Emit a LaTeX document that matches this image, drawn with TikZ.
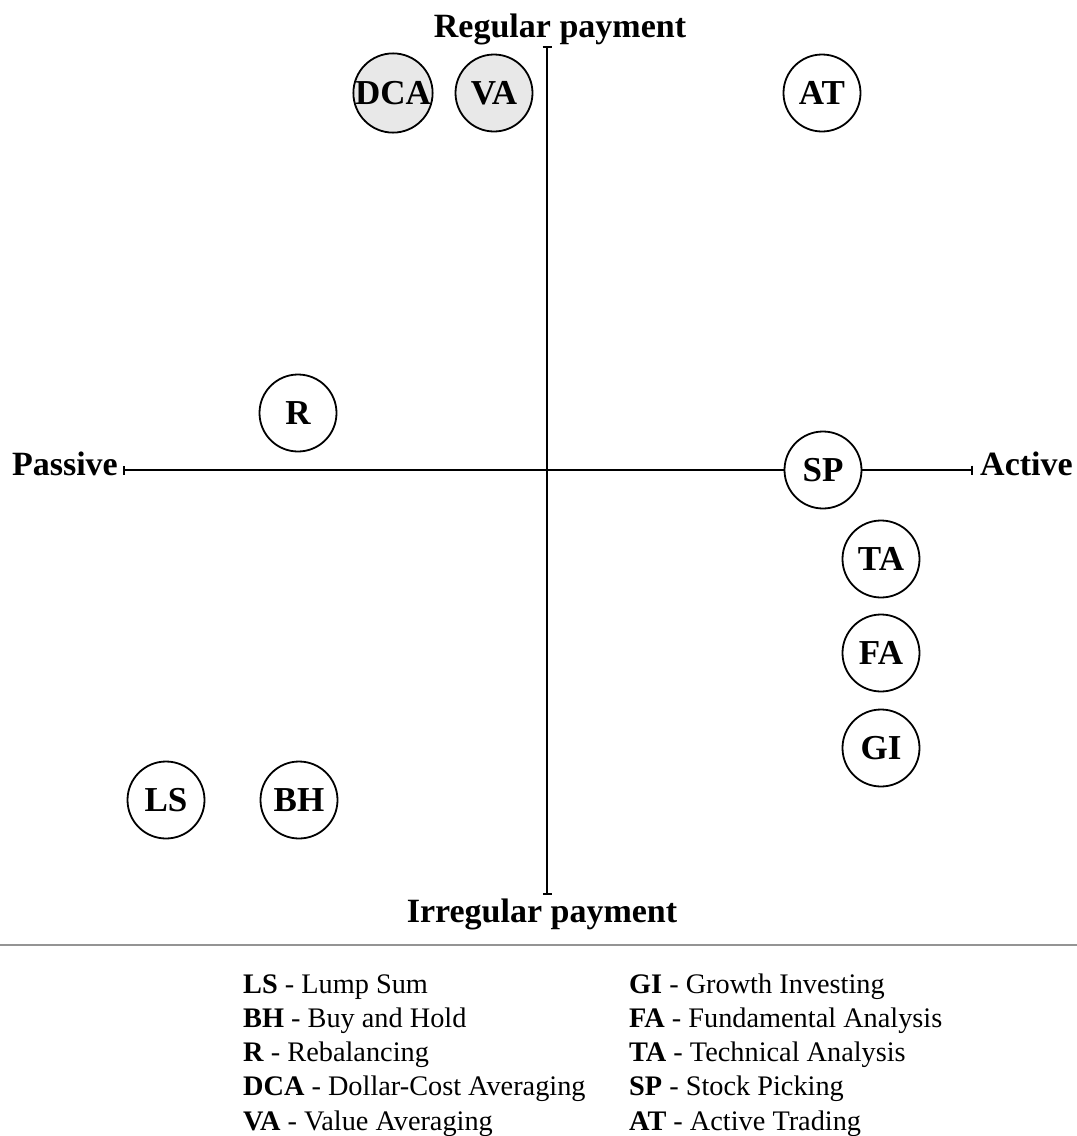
\documentclass[tikz,border=0pt]{standalone}
\usepackage{fontspec}
\setmainfont{Liberation Serif}
\usetikzlibrary{arrows.meta}
\begin{document}
\begin{tikzpicture}[x=1pt,y=-1pt,
  strat/.style={circle,draw=black,line width=1.8pt,fill=white,minimum size=77pt,inner sep=0pt,
    font=\fontsize{35}{38}\selectfont\bfseries},
  shaded/.style={strat,fill=gray!18},
  axislbl/.style={font=\fontsize{34}{38}\selectfont\bfseries,inner sep=0pt},
  axisline/.style={line width=1.6pt,{Bar[width=9pt,line width=1.6pt]}-{Bar[width=9pt,line width=1.6pt]}},
  legend/.style={font=\fontsize{28.3}{32}\selectfont,inner sep=0pt,anchor=base west}]
\useasboundingbox (0,0) rectangle (1077,1136);
% axis ends
\coordinate (top) at (547,46);
\coordinate (bot) at (547,895);
\coordinate (left) at (123,470);
\coordinate (right) at (973,470);
\draw[axisline] (top) -- (bot);
\draw[axisline] (left) -- (right);
% axis labels
\node[axislbl,anchor=base] (reg) at (560,37) {Regular payment};
\node[axislbl,anchor=base] (irr) at (542,922) {Irregular payment};
\node[axislbl,anchor=base east] (pas) at (118,475) {Passive};
\node[axislbl,anchor=base west] (act) at (980,475) {Active};
% strategies
\node[shaded] (DCA) at (393,93) {DCA};
\node[shaded] (VA) at (494,93) {VA};
\node[strat] (AT) at (822,93) {AT};
\node[strat] (R) at (298,413) {R};
\node[strat] (SP) at (823,470) {SP};
\node[strat] (TA) at (881,559) {TA};
\node[strat] (FA) at (881,653) {FA};
\node[strat] (GI) at (881,748) {GI};
\node[strat] (LS) at (166,800) {LS};
\node[strat] (BH) at (299,800) {BH};
% separator
\coordinate (sepL) at (0,945);
\coordinate (sepR) at (1077,945);
\draw[black!42,line width=2pt] (sepL) -- (sepR);
% legend
\node[legend] (l1) at (243,993) {\textbf{LS} - Lump Sum};
\node[legend] (l2) at (243,1027.3) {\textbf{BH} - Buy and Hold};
\node[legend] (l3) at (243,1061.6) {\textbf{R} - Rebalancing};
\node[legend] (l4) at (243,1095.9) {\textbf{DCA} - Dollar-Cost Averaging};
\node[legend] (l5) at (243,1130.2) {\textbf{VA} - Value Averaging};
\node[legend] (r1) at (629,993) {\textbf{GI} - Growth Investing};
\node[legend] (r2) at (629,1027.3) {\textbf{FA} - Fundamental Analysis};
\node[legend] (r3) at (629,1061.6) {\textbf{TA} - Technical Analysis};
\node[legend] (r4) at (629,1095.9) {\textbf{SP} - Stock Picking};
\node[legend] (r5) at (629,1130.2) {\textbf{AT} - Active Trading};
\end{tikzpicture}
\end{document}
